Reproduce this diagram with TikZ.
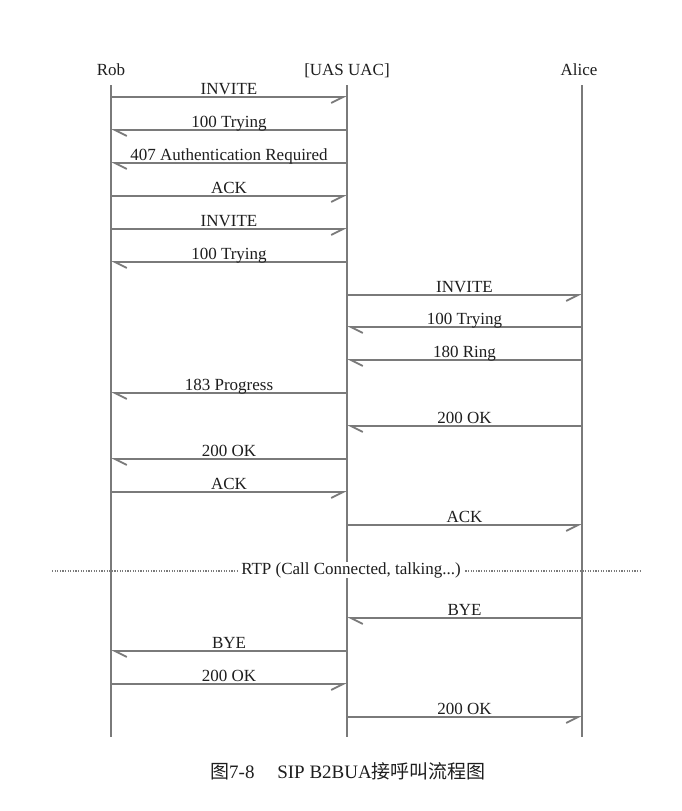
\documentclass[tikz,border=0pt]{standalone}
\usepackage{fontspec}
\setmainfont{Liberation Serif}
\newfontfamily\cjk{Noto Sans CJK SC}
\usetikzlibrary{arrows.meta}
\definecolor{ln}{HTML}{7A7A7A}
\definecolor{tx}{HTML}{1E1E1E}
\begin{document}
\begin{tikzpicture}[x=1pt,y=-1pt,
  every node/.style={text=tx,font=\fontsize{17}{20}\selectfont},
  life/.style={draw=ln,line width=1.8pt},
  msgR/.style={draw=ln,line width=1.8pt,-{Straight Barb[right,length=12pt,width=12pt,line width=1.8pt]}},
  msgL/.style={draw=ln,line width=1.8pt,-{Straight Barb[left,length=12pt,width=12pt,line width=1.8pt]}},
  lbl/.style={midway,anchor=base,yshift=2.5pt,inner sep=0pt},
  head/.style={inner sep=0pt,anchor=base}]
\useasboundingbox[fill=white] (0,0) rectangle (681,811);
% heads
\node[head] (rob) at (111,75) {Rob};
\node[head] (uas) at (347,75) {[UAS UAC]};
\node[head] (alice) at (579,75) {Alice};
\coordinate (robT) at (111,85);   \coordinate (robB) at (111,737);
\coordinate (uasT) at (347,85);   \coordinate (uasB) at (347,737);
\coordinate (aliT) at (582,85);   \coordinate (aliB) at (582,737);
\draw[life] (robT) -- (robB);
\draw[life] (uasT) -- (uasB);
\draw[life] (aliT) -- (aliB);
% messages
\draw[msgR] (robT |- 0,97)  -- (uasT |- 0,97)  node[lbl]{INVITE};
\draw[msgL] (uasT |- 0,130) -- (robT |- 0,130) node[lbl]{100 Trying};
\draw[msgL] (uasT |- 0,163) -- (robT |- 0,163) node[lbl]{407 Authentication Required};
\draw[msgR] (robT |- 0,196) -- (uasT |- 0,196) node[lbl]{ACK};
\draw[msgR] (robT |- 0,229) -- (uasT |- 0,229) node[lbl]{INVITE};
\draw[msgL] (uasT |- 0,262) -- (robT |- 0,262) node[lbl]{100 Trying};
\draw[msgR] (uasT |- 0,295) -- (aliT |- 0,295) node[lbl]{INVITE};
\draw[msgL] (aliT |- 0,327) -- (uasT |- 0,327) node[lbl]{100 Trying};
\draw[msgL] (aliT |- 0,360) -- (uasT |- 0,360) node[lbl]{180 Ring};
\draw[msgL] (uasT |- 0,393) -- (robT |- 0,393) node[lbl]{183 Progress};
\draw[msgL] (aliT |- 0,426) -- (uasT |- 0,426) node[lbl]{200 OK};
\draw[msgL] (uasT |- 0,459) -- (robT |- 0,459) node[lbl]{200 OK};
\draw[msgR] (robT |- 0,492) -- (uasT |- 0,492) node[lbl]{ACK};
\draw[msgR] (uasT |- 0,525) -- (aliT |- 0,525) node[lbl]{ACK};
% RTP
\coordinate (dL) at (52,571);
\coordinate (dR) at (640,571);
\draw[ln,line width=1.4pt,dash pattern=on 1.2pt off 1.4pt] (dL) -- (dR);
\node[fill=white,inner xsep=3pt,inner ysep=0pt] (rtp) at (351,570) {RTP (Call Connected, talking...)};
\draw[msgL] (aliT |- 0,618) -- (uasT |- 0,618) node[lbl]{BYE};
\draw[msgL] (uasT |- 0,651) -- (robT |- 0,651) node[lbl]{BYE};
\draw[msgR] (robT |- 0,684) -- (uasT |- 0,684) node[lbl]{200 OK};
\draw[msgR] (uasT |- 0,717) -- (aliT |- 0,717) node[lbl]{200 OK};
% caption
\node[anchor=base,font=\fontsize{19}{22}\selectfont] (cap) at (348,778) {{\cjk 图}7-8\hspace{1.2em}SIP B2BUA{\cjk 接呼叫流程图}};
\end{tikzpicture}
\end{document}
